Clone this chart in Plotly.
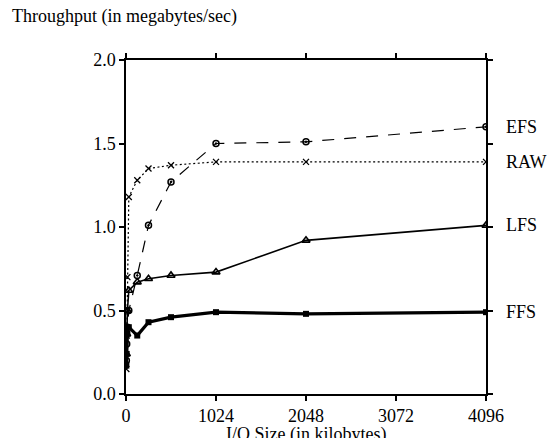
import plotly.graph_objects as go

io_kb = [4, 8, 16, 32, 128, 256, 512, 1024, 2048, 4096]
efs = [0.20, 0.30, 0.40, 0.50, 0.71, 1.01, 1.27, 1.50, 1.51, 1.60]
raw = [0.15, 0.35, 0.70, 1.18, 1.28, 1.35, 1.37, 1.39, 1.39, 1.39]
lfs = [0.24, 0.36, 0.50, 0.62, 0.67, 0.69, 0.71, 0.73, 0.92, 1.01]
ffs = [0.17, 0.24, 0.36, 0.40, 0.35, 0.43, 0.46, 0.49, 0.48, 0.49]
series_names = ["EFS", "RAW", "LFS", "FFS"]
x_ticks = [0, 1024, 2048, 3072, 4096]
y_ticks = [0.0, 0.5, 1.0, 1.5, 2.0]

FONT = "Liberation Serif"
FS = 18

fig = go.Figure()
fig.add_trace(go.Scatter(x=io_kb, y=efs, mode="lines+markers", name="EFS",
                         line=dict(color="black", width=1.2, dash="12px,10px"),
                         marker=dict(symbol="circle-open-dot", size=6, color="black",
                                     line=dict(width=1.5, color="black"))))
fig.add_trace(go.Scatter(x=io_kb, y=raw, mode="lines+markers", name="RAW",
                         line=dict(color="black", width=1.2, dash="2px,2.5px"),
                         marker=dict(symbol="x-thin-open", size=6, color="black",
                                     line=dict(width=1.3, color="black"))))
fig.add_trace(go.Scatter(x=io_kb, y=lfs, mode="lines+markers", name="LFS",
                         line=dict(color="black", width=1.6),
                         marker=dict(symbol="triangle-up-open", size=7, color="black",
                                     line=dict(width=1.6, color="black"))))
fig.add_trace(go.Scatter(x=io_kb, y=ffs, mode="lines+markers", name="FFS",
                         line=dict(color="black", width=3.2),
                         marker=dict(symbol="square", size=6, color="black")))

ends = [efs[-1], raw[-1], lfs[-1], ffs[-1]]
for name, yv in zip(series_names, ends):
    fig.add_annotation(x=io_kb[-1], y=yv, text=name, showarrow=False,
                       xanchor="left", yanchor="middle", xshift=18,
                       font=dict(family=FONT, size=FS, color="black"))

fig.add_annotation(xref="paper", yref="paper", x=-0.322, y=1.13, xanchor="left",
                   yanchor="middle", text="Throughput (in megabytes/sec)", showarrow=False,
                   font=dict(family=FONT, size=FS, color="black"))
fig.add_annotation(xref="paper", yref="paper", x=0.5, y=-0.083, xanchor="center",
                   yanchor="top", text="I/O Size (in kilobytes)", showarrow=False,
                   font=dict(family=FONT, size=FS, color="black"))

axis_common = dict(showgrid=False, zeroline=False, showline=True, linecolor="black",
                   linewidth=1.5, ticks="outside", ticklen=5, tickwidth=1.5,
                   tickcolor="black", mirror="allticks",
                   tickfont=dict(family=FONT, size=FS, color="black"))
fig.update_xaxes(range=[0, 4096], tickvals=x_ticks, ticktext=[str(v) for v in x_ticks],
                 **axis_common)
fig.update_yaxes(range=[0, 2.0], tickvals=y_ticks, ticktext=[f"{v:.1f}" for v in y_ticks],
                 ticklabelstandoff=0, **axis_common)

fig.update_layout(width=550, height=438, showlegend=False,
                  plot_bgcolor="white", paper_bgcolor="white",
                  margin=dict(l=126, r=64, t=60, b=42),
                  font=dict(family=FONT, size=FS, color="black"))

fig.write_html("out.html", config={"displayModeBar": False},
               post_script="document.body.style.margin='0';document.body.style.overflow='hidden';")
